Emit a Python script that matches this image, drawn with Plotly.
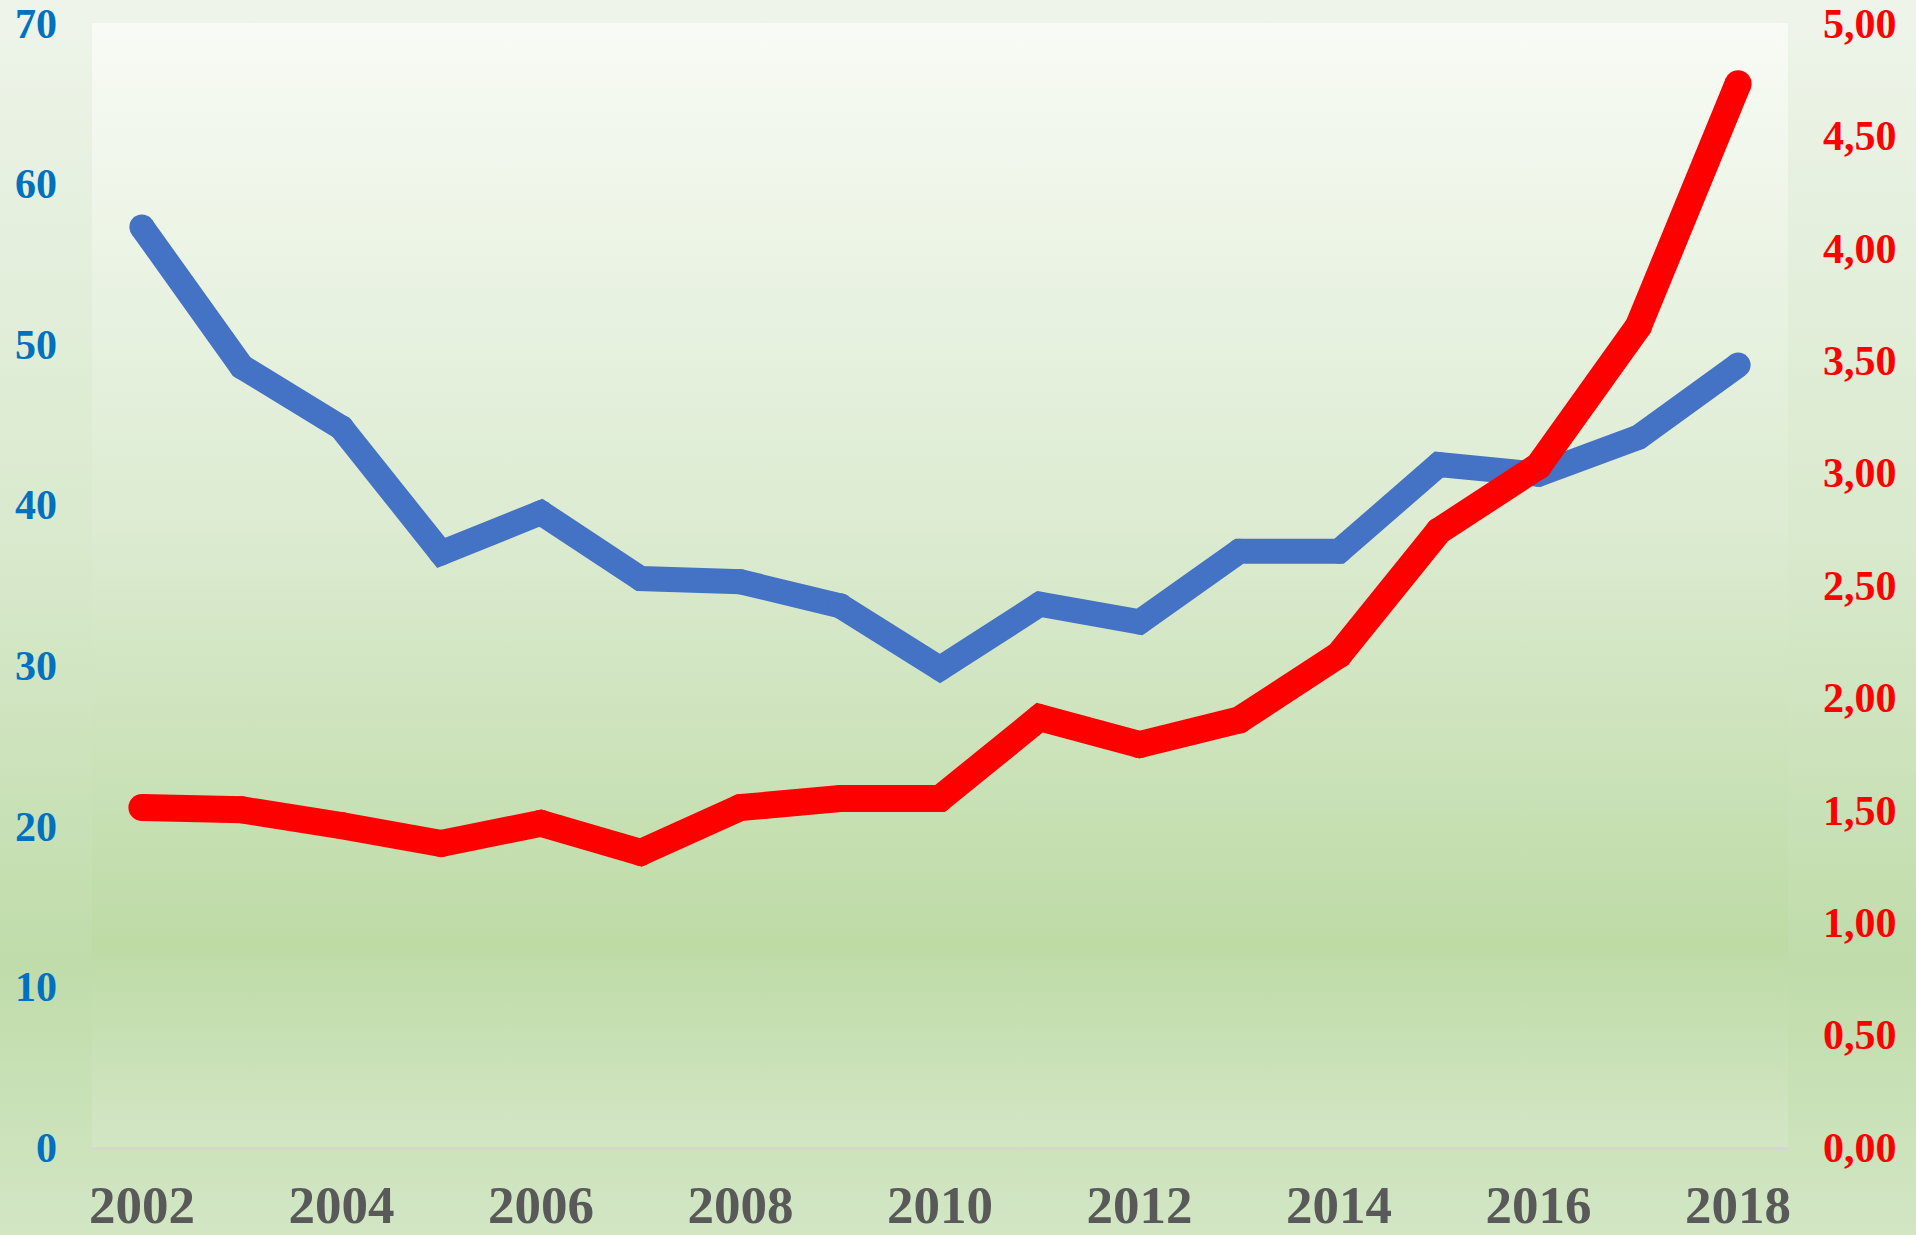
import base64
import plotly.graph_objects as go

years = list(range(2002, 2019))
blue_values = [57.3, 48.6, 44.8, 37.0, 39.5, 35.4, 35.2, 33.7, 29.8, 33.8, 32.7, 37.1, 37.1, 42.5, 41.9, 44.2, 48.7]
red_values = [1.51, 1.50, 1.43, 1.35, 1.44, 1.31, 1.51, 1.55, 1.55, 1.91, 1.79, 1.90, 2.19, 2.74, 3.03, 3.65, 4.73]
x_tick_vals = [2002, 2004, 2006, 2008, 2010, 2012, 2014, 2016, 2018]

W, H = 1916, 1235
ML, MR, MT, MB = 92, 128, 23, 88
PW, PH = W - ML - MR, H - MT - MB


def grad_svg(stops):
    st = "".join(f'<stop offset="{o}" stop-color="{c}"/>' for o, c in stops)
    svg = ('<svg xmlns="http://www.w3.org/2000/svg" width="100" height="100" viewBox="0 0 100 100" '
           'preserveAspectRatio="none"><defs><linearGradient id="g" x1="0" y1="0" x2="0" y2="1">'
           + st + '</linearGradient></defs><rect x="0" y="0" width="100" height="100" fill="url(#g)"/></svg>')
    return "data:image/svg+xml;base64," + base64.b64encode(svg.encode()).decode()


outer = grad_svg([(0, "#eef4ea"), (0.45, "#d8e9cc"), (0.78, "#c0dcaa"), (1, "#d2e6c4")])
inner = grad_svg([(0, "#f8fbf5"), (0.45, "#dcebd1"), (0.82, "#bedba6"), (1, "#d3e6c5")])

fig = go.Figure()
fig.add_trace(go.Scatter(
    x=years, y=blue_values, mode="lines+markers", yaxis="y",
    line=dict(color="#4472C4", width=25),
    marker=dict(color="#4472C4", size=25, line=dict(width=0)),
    showlegend=False, hoverinfo="x+y"))
fig.add_trace(go.Scatter(
    x=years, y=red_values, mode="lines+markers", yaxis="y2",
    line=dict(color="#FF0000", width=27),
    marker=dict(color="#FF0000", size=27, line=dict(width=0)),
    showlegend=False, hoverinfo="x+y"))

font_family = "Liberation Serif, Times New Roman, serif"

fig.update_layout(
    width=W, height=H, autosize=False,
    margin=dict(l=ML, r=MR, t=MT, b=MB, pad=0),
    paper_bgcolor="#d8e9cc", plot_bgcolor="rgba(0,0,0,0)",
    separators=", ",
    images=[
        dict(source=outer, xref="paper", yref="paper", x=-ML / PW, y=1 + MT / PH,
             sizex=W / PW, sizey=H / PH, xanchor="left", yanchor="top",
             sizing="stretch", layer="below"),
        dict(source=inner, xref="paper", yref="paper", x=0, y=1, sizex=1, sizey=1,
             xanchor="left", yanchor="top", sizing="stretch", layer="below"),
    ],
    xaxis=dict(range=[2001.5, 2018.5], tickvals=x_tick_vals, showgrid=False, zeroline=False,
               showline=True, linecolor="#d6d6d6", linewidth=3, ticks="",
               ticklabelstandoff=9, automargin=False,
               tickfont=dict(family=font_family, size=53, color="#595959", weight="bold")),
    yaxis=dict(range=[0, 70], dtick=10, showgrid=False, zeroline=False, showline=False,
               ticks="", ticklabelstandoff=34, automargin=False,
               tickfont=dict(family=font_family, size=42, color="#0070C0", weight="bold")),
    yaxis2=dict(range=[0, 5], dtick=0.5, tickformat=".2f", overlaying="y", side="right",
                showgrid=False, zeroline=False, showline=False, ticks="", ticklabelstandoff=34,
                automargin=False,
                tickfont=dict(family=font_family, size=42, color="#FF0000", weight="bold")),
)

fig.write_html("out.html", config={"displayModeBar": False},
               post_script="document.body.style.margin='0';document.body.style.overflow='hidden';")
